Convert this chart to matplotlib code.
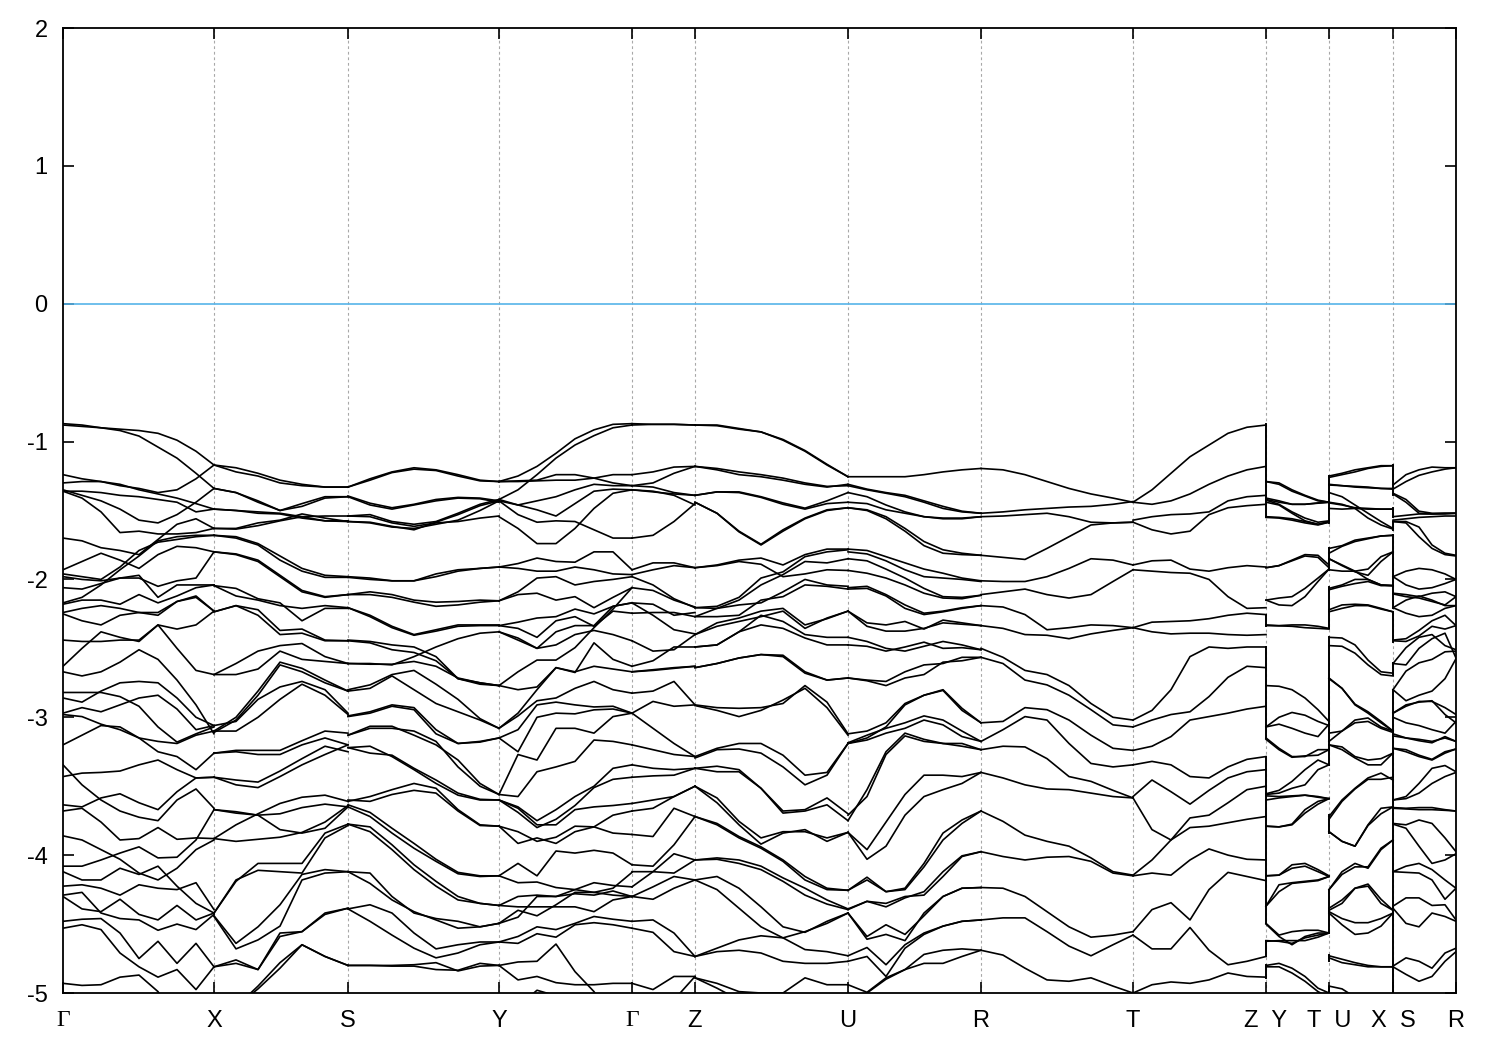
import matplotlib
matplotlib.use("Agg")
import matplotlib.pyplot as plt

plt.rcParams['font.family'] = ['Liberation Sans', 'DejaVu Sans']
plt.rcParams['axes.unicode_minus'] = False

# ---- path ticks ----
tick_k = [0, 151, 285, 436, 569, 632, 785, 918, 1070, 1203, 1266, 1330, 1393]
tick_names = ['Γ', 'X', 'S', 'Y', 'Γ', 'Z', 'U', 'R', 'T', 'Z  Y', 'T  U', 'X  S', 'R']
energy_ticks = [2, 1, 0, -1, -2, -3, -4, -5]
grid_k = [151, 285, 436, 569, 632, 785, 918, 1070, 1203, 1266, 1330]
fermi_level = 0

# ---- bands, section by section: energy (eV) at the section's k values ----
GX_k = [0, 19, 38, 57, 76, 95, 114, 133, 151]
GX_E = [
 [-.87,-.88,-.90,-.91,-.92,-.94,-.99,-1.07,-1.17],
 [-.88,-.89,-.90,-.92,-.96,-1.04,-1.12,-1.23,-1.34],
 [-1.24,-1.27,-1.29,-1.32,-1.34,-1.37,-1.35,-1.27,-1.17],
 [-1.30,-1.29,-1.29,-1.31,-1.35,-1.38,-1.41,-1.45,-1.49],
 [-1.35,-1.39,-1.43,-1.49,-1.57,-1.59,-1.53,-1.44,-1.34],
 [-1.36,-1.36,-1.37,-1.39,-1.40,-1.42,-1.44,-1.51,-1.49],
 [-1.36,-1.41,-1.51,-1.66,-1.65,-1.67,-1.67,-1.66,-1.63],
 [-1.70,-1.72,-1.77,-1.79,-1.82,-1.71,-1.60,-1.56,-1.63],
 [-1.93,-1.87,-1.81,-1.86,-1.92,-1.82,-1.76,-1.77,-1.80],
 [-1.98,-2.0,-2.01,-1.99,-1.99,-2.05,-2.01,-1.99,-1.80],
 [-1.96,-1.98,-2.0,-1.91,-1.79,-1.73,-1.71,-1.69,-1.68],
 [-2.06,-2.07,-2.03,-1.99,-1.97,-2.13,-2.04,-2.04,-2.04],
 [-2.17,-2.13,-2.04,-1.93,-1.83,-1.72,-1.69,-1.68,-1.68],
 [-2.18,-2.15,-2.15,-2.18,-2.11,-2.17,-2.12,-2.06,-2.04],
 [-2.24,-2.21,-2.19,-2.21,-2.24,-2.24,-2.16,-2.13,-2.23],
 [-2.25,-2.30,-2.33,-2.26,-2.24,-2.26,-2.16,-2.12,-2.23],
 [-2.44,-2.45,-2.45,-2.44,-2.44,-2.33,-2.50,-2.66,-2.69],
 [-2.63,-2.50,-2.38,-2.42,-2.45,-2.33,-2.36,-2.33,-2.23],
 [-2.67,-2.70,-2.67,-2.60,-2.51,-2.58,-2.73,-2.91,-3.12],
 [-2.82,-2.82,-2.82,-2.85,-2.92,-3.07,-3.18,-3.12,-3.07],
 [-2.86,-2.89,-2.81,-2.75,-2.74,-2.75,-2.86,-3.0,-3.06],
 [-2.97,-2.93,-2.96,-2.91,-2.86,-2.84,-2.94,-3.09,-3.06],
 [-2.98,-2.995,-3.05,-3.09,-3.15,-3.175,-3.19,-3.13,-3.10],
 [-3.20,-3.13,-3.06,-3.07,-3.15,-3.25,-3.285,-3.38,-3.26],
 [-3.345,-3.49,-3.6,-3.68,-3.725,-3.75,-3.6,-3.52,-3.66],
 [-3.43,-3.405,-3.40,-3.39,-3.345,-3.31,-3.38,-3.44,-3.435],
 [-3.635,-3.65,-3.585,-3.555,-3.62,-3.67,-3.54,-3.44,-3.435],
 [-3.68,-3.66,-3.76,-3.89,-3.88,-3.80,-3.885,-3.875,-3.88],
 [-3.86,-3.89,-3.96,-4.03,-4.13,-4.18,-4.095,-3.96,-3.89],
 [-4.08,-4.08,-4.035,-3.985,-3.94,-4.02,-4.015,-3.89,-3.67],
 [-4.12,-4.18,-4.18,-4.095,-4.14,-4.08,-4.225,-4.35,-4.42],
 [-4.225,-4.215,-4.24,-4.29,-4.215,-4.24,-4.25,-4.20,-4.395],
 [-4.29,-4.27,-4.42,-4.46,-4.47,-4.545,-4.50,-4.54,-4.43],
 [-4.30,-4.39,-4.41,-4.32,-4.43,-4.47,-4.365,-4.47,-4.42],
 [-4.48,-4.465,-4.46,-4.565,-4.75,-4.625,-4.785,-4.64,-4.81],
 [-4.53,-4.505,-4.54,-4.71,-4.81,-4.885,-4.83,-4.975,-4.81],
 [-4.93,-4.945,-4.94,-4.885,-4.87,-4.99,-5.2,-5.2,-5.3],
]

XS_k = [151, 173, 195, 217, 239, 262, 285]
XS_E = [
 [-1.17,-1.19,-1.23,-1.28,-1.31,-1.33,-1.33],
 [-1.17,-1.22,-1.25,-1.30,-1.32,-1.33,-1.33],
 [-1.34,-1.37,-1.44,-1.50,-1.45,-1.40,-1.40],
 [-1.34,-1.37,-1.43,-1.50,-1.47,-1.41,-1.40],
 [-1.49,-1.50,-1.52,-1.525,-1.555,-1.575,-1.58],
 [-1.49,-1.50,-1.51,-1.52,-1.545,-1.54,-1.54],
 [-1.63,-1.63,-1.59,-1.57,-1.525,-1.555,-1.58],
 [-1.63,-1.635,-1.61,-1.575,-1.545,-1.575,-1.575],
 [-1.68,-1.69,-1.74,-1.83,-1.92,-1.97,-1.98],
 [-1.68,-1.70,-1.75,-1.86,-1.94,-1.985,-1.985],
 [-1.80,-1.815,-1.86,-1.97,-2.08,-2.125,-2.11],
 [-1.80,-1.82,-1.87,-1.98,-2.09,-2.13,-2.11],
 [-2.045,-2.12,-2.15,-2.19,-2.21,-2.19,-2.205],
 [-2.235,-2.19,-2.22,-2.37,-2.36,-2.44,-2.445],
 [-2.235,-2.19,-2.26,-2.40,-2.39,-2.445,-2.445],
 [-2.045,-2.065,-2.14,-2.17,-2.30,-2.21,-2.21],
 [-2.69,-2.61,-2.52,-2.48,-2.465,-2.56,-2.61],
 [-2.69,-2.69,-2.65,-2.52,-2.58,-2.595,-2.61],
 [-3.1,-3.0,-2.81,-2.60,-2.645,-2.73,-2.81],
 [-3.11,-3.02,-2.84,-2.62,-2.67,-2.75,-2.81],
 [-3.06,-3.03,-2.87,-2.78,-2.74,-2.80,-2.97],
 [-3.10,-3.10,-3.0,-2.87,-2.76,-2.84,-2.98],
 [-3.26,-3.24,-3.24,-3.24,-3.17,-3.10,-3.115],
 [-3.26,-3.25,-3.27,-3.27,-3.20,-3.15,-3.20],
 [-3.435,-3.49,-3.51,-3.43,-3.345,-3.27,-3.20],
 [-3.435,-3.455,-3.47,-3.39,-3.30,-3.21,-3.25],
 [-3.67,-3.685,-3.71,-3.70,-3.655,-3.63,-3.65],
 [-3.67,-3.695,-3.71,-3.815,-3.84,-3.805,-3.65],
 [-3.88,-3.90,-3.885,-3.87,-3.835,-3.76,-3.64],
 [-3.88,-3.78,-3.70,-3.625,-3.58,-3.565,-3.61],
 [-4.42,-4.19,-4.06,-4.06,-4.06,-3.84,-3.775],
 [-4.42,-4.18,-4.11,-4.12,-4.13,-3.875,-3.785],
 [-4.44,-4.64,-4.52,-4.36,-4.14,-4.105,-4.12],
 [-4.445,-4.68,-4.615,-4.515,-4.18,-4.13,-4.12],
 [-4.81,-4.76,-4.83,-4.565,-4.555,-4.42,-4.385],
 [-4.81,-4.785,-4.83,-4.59,-4.555,-4.43,-4.385],
 [-5.4,-5.1,-4.95,-4.78,-4.65,-4.735,-4.80],
 [-5.4,-5.1,-4.97,-4.82,-4.65,-4.735,-4.80],
]

SY_k = [285, 307, 329, 351, 373, 395, 417, 436]
SY_E = [
 [-1.33,-1.27,-1.22,-1.19,-1.205,-1.24,-1.28,-1.29],
 [-1.33,-1.28,-1.225,-1.20,-1.21,-1.25,-1.285,-1.29],
 [-1.395,-1.447,-1.48,-1.455,-1.42,-1.405,-1.41,-1.43],
 [-1.40,-1.46,-1.49,-1.46,-1.43,-1.41,-1.415,-1.44],
 [-1.54,-1.53,-1.58,-1.60,-1.58,-1.52,-1.455,-1.42],
 [-1.58,-1.585,-1.615,-1.64,-1.585,-1.53,-1.465,-1.43],
 [-1.54,-1.545,-1.59,-1.615,-1.59,-1.58,-1.555,-1.54],
 [-1.58,-1.59,-1.62,-1.63,-1.60,-1.57,-1.50,-1.43],
 [-1.98,-1.99,-2.01,-2.01,-1.96,-1.93,-1.92,-1.91],
 [-1.985,-2.0,-2.01,-2.01,-1.98,-1.94,-1.92,-1.91],
 [-2.11,-2.09,-2.11,-2.15,-2.165,-2.16,-2.15,-2.155],
 [-2.11,-2.11,-2.13,-2.165,-2.195,-2.185,-2.165,-2.155],
 [-2.205,-2.26,-2.34,-2.40,-2.365,-2.33,-2.33,-2.33],
 [-2.205,-2.27,-2.35,-2.405,-2.375,-2.34,-2.335,-2.335],
 [-2.44,-2.45,-2.475,-2.49,-2.56,-2.72,-2.75,-2.77],
 [-2.445,-2.46,-2.51,-2.53,-2.59,-2.72,-2.76,-2.77],
 [-2.61,-2.61,-2.62,-2.56,-2.49,-2.43,-2.39,-2.38],
 [-2.61,-2.615,-2.615,-2.595,-2.63,-2.715,-2.75,-2.77],
 [-2.80,-2.765,-2.69,-2.66,-2.76,-2.87,-3.01,-3.08],
 [-2.81,-2.79,-2.70,-2.80,-2.90,-2.96,-3.02,-3.08],
 [-2.995,-2.97,-2.92,-2.945,-3.12,-3.19,-3.18,-3.15],
 [-2.99,-2.96,-2.91,-2.93,-3.09,-3.19,-3.175,-3.15],
 [-3.13,-3.08,-3.08,-3.10,-3.175,-3.36,-3.50,-3.56],
 [-3.13,-3.065,-3.065,-3.13,-3.20,-3.31,-3.48,-3.56],
 [-3.22,-3.26,-3.275,-3.37,-3.455,-3.55,-3.595,-3.60],
 [-3.22,-3.21,-3.285,-3.38,-3.48,-3.565,-3.60,-3.60],
 [-3.61,-3.575,-3.525,-3.48,-3.515,-3.67,-3.78,-3.79],
 [-3.60,-3.61,-3.56,-3.53,-3.55,-3.68,-3.785,-3.79],
 [-3.65,-3.72,-3.84,-3.95,-4.045,-4.135,-4.155,-4.15],
 [-3.635,-3.69,-3.805,-3.915,-4.03,-4.125,-4.15,-4.15],
 [-3.775,-3.83,-3.96,-4.105,-4.225,-4.325,-4.35,-4.365],
 [-3.775,-3.795,-3.925,-4.07,-4.19,-4.30,-4.35,-4.365],
 [-4.12,-4.13,-4.30,-4.42,-4.46,-4.48,-4.52,-4.495],
 [-4.12,-4.205,-4.325,-4.41,-4.47,-4.53,-4.52,-4.495],
 [-4.39,-4.36,-4.42,-4.565,-4.68,-4.65,-4.63,-4.63],
 [-4.39,-4.48,-4.58,-4.675,-4.745,-4.71,-4.65,-4.63],
 [-4.80,-4.80,-4.80,-4.795,-4.78,-4.84,-4.805,-4.80],
 [-4.80,-4.80,-4.805,-4.805,-4.83,-4.835,-4.785,-4.80],
]

YG_k = [436, 455, 474, 493, 512, 531, 550, 569]
YG_E = [
 [-1.29,-1.25,-1.18,-1.085,-.98,-.915,-.875,-.87],
 [-1.42,-1.35,-1.24,-1.12,-1.025,-.957,-.90,-.88],
 [-1.29,-1.285,-1.28,-1.24,-1.24,-1.265,-1.30,-1.32],
 [-1.29,-1.29,-1.285,-1.28,-1.28,-1.265,-1.24,-1.24],
 [-1.42,-1.46,-1.43,-1.40,-1.35,-1.31,-1.32,-1.32],
 [-1.43,-1.46,-1.495,-1.54,-1.45,-1.36,-1.345,-1.35],
 [-1.43,-1.53,-1.585,-1.575,-1.58,-1.64,-1.70,-1.70],
 [-1.545,-1.63,-1.74,-1.74,-1.63,-1.485,-1.375,-1.35],
 [-1.91,-1.885,-1.845,-1.87,-1.875,-1.80,-1.80,-1.93],
 [-1.91,-1.92,-1.94,-1.94,-1.91,-1.93,-1.96,-1.965],
 [-2.155,-2.09,-1.99,-1.98,-2.04,-2.015,-2.0,-1.98],
 [-2.155,-2.11,-2.10,-2.15,-2.125,-2.205,-2.13,-2.06],
 [-2.335,-2.31,-2.28,-2.27,-2.215,-2.25,-2.195,-2.17],
 [-2.335,-2.355,-2.42,-2.30,-2.27,-2.34,-2.23,-2.245],
 [-2.38,-2.425,-2.50,-2.38,-2.335,-2.335,-2.195,-2.17],
 [-2.38,-2.44,-2.50,-2.475,-2.40,-2.37,-2.40,-2.445],
 [-2.77,-2.67,-2.585,-2.585,-2.495,-2.35,-2.215,-2.06],
 [-2.77,-2.80,-2.78,-2.64,-2.675,-2.46,-2.58,-2.63],
 [-3.08,-2.97,-2.80,-2.64,-2.67,-2.63,-2.65,-2.67],
 [-3.08,-2.99,-2.88,-2.86,-2.79,-2.74,-2.80,-2.825],
 [-3.15,-3.25,-3.0,-2.97,-2.975,-2.946,-2.94,-2.97],
 [-3.15,-3.09,-2.91,-2.89,-2.91,-2.925,-2.92,-2.97],
 [-3.56,-3.27,-3.31,-3.08,-3.08,-3.115,-2.995,-2.97],
 [-3.56,-3.575,-3.395,-3.36,-3.32,-3.165,-3.175,-3.20],
 [-3.60,-3.65,-3.75,-3.67,-3.575,-3.50,-3.37,-3.345],
 [-3.60,-3.69,-3.80,-3.74,-3.64,-3.51,-3.45,-3.435],
 [-3.60,-3.66,-3.78,-3.78,-3.67,-3.65,-3.64,-3.625],
 [-3.79,-3.83,-3.90,-3.87,-3.79,-3.795,-3.71,-3.68],
 [-3.79,-3.915,-3.875,-3.915,-3.83,-3.795,-3.84,-3.85],
 [-4.15,-4.06,-4.15,-3.97,-3.985,-3.965,-3.985,-4.07],
 [-4.15,-4.20,-4.195,-4.235,-4.25,-4.20,-4.22,-4.23],
 [-4.365,-4.30,-4.29,-4.30,-4.28,-4.29,-4.26,-4.30],
 [-4.365,-4.375,-4.375,-4.375,-4.375,-4.41,-4.325,-4.30],
 [-4.495,-4.40,-4.44,-4.36,-4.27,-4.27,-4.24,-4.125],
 [-4.495,-4.45,-4.30,-4.30,-4.25,-4.27,-4.29,-4.30],
 [-4.63,-4.59,-4.52,-4.54,-4.495,-4.445,-4.465,-4.48],
 [-4.63,-4.64,-4.57,-4.595,-4.505,-4.49,-4.505,-4.53],
 [-4.80,-4.775,-4.77,-4.645,-4.845,-4.99,-5.2,-5.3],
 [-4.80,-4.905,-4.88,-4.925,-4.94,-4.94,-4.93,-4.93],
 [-5.3,-5.1,-4.98,-5.02,-5.3,-5.3,-5.3,-5.3],
]

GZ_k = [569, 590, 611, 632]
GZ_E = [
 [-.87,-.875,-.875,-.88],
 [-.88,-.875,-.875,-.88],
 [-1.24,-1.22,-1.185,-1.18],
 [-1.32,-1.30,-1.23,-1.18],
 [-1.32,-1.33,-1.37,-1.39],
 [-1.35,-1.365,-1.38,-1.39],
 [-1.35,-1.36,-1.39,-1.46],
 [-1.70,-1.68,-1.58,-1.45],
 [-1.93,-1.88,-1.88,-1.915],
 [-1.965,-1.93,-1.90,-1.915],
 [-1.98,-2.04,-2.14,-2.205],
 [-2.06,-2.08,-2.15,-2.20],
 [-2.17,-2.18,-2.26,-2.24],
 [-2.245,-2.24,-2.24,-2.27],
 [-2.17,-2.26,-2.365,-2.395],
 [-2.445,-2.52,-2.51,-2.40],
 [-2.63,-2.59,-2.49,-2.49],
 [-2.67,-2.66,-2.645,-2.63],
 [-2.67,-2.655,-2.64,-2.63],
 [-2.825,-2.81,-2.74,-2.91],
 [-2.97,-3.08,-3.19,-3.285],
 [-2.97,-2.885,-2.92,-2.91],
 [-3.20,-3.235,-3.27,-3.285],
 [-3.345,-3.37,-3.38,-3.37],
 [-3.435,-3.425,-3.42,-3.37],
 [-3.625,-3.60,-3.575,-3.50],
 [-3.68,-3.66,-3.575,-3.50],
 [-3.85,-3.865,-3.66,-3.72],
 [-4.07,-4.08,-3.925,-3.72],
 [-4.23,-4.12,-4.13,-4.035],
 [-4.12,-4.12,-3.99,-4.035],
 [-4.30,-4.32,-4.24,-4.18],
 [-4.30,-4.23,-4.155,-4.18],
 [-4.48,-4.47,-4.565,-4.735],
 [-4.53,-4.56,-4.70,-4.735],
 [-4.93,-4.975,-4.88,-4.88],
 [-5.3,-5.3,-5.05,-4.88],
]

ZU_k = [632, 654, 676, 698, 720, 742, 764, 785]
ZU_E = [
 [-.88,-.885,-.91,-.93,-.99,-1.07,-1.17,-1.255],
 [-.88,-.88,-.905,-.93,-.985,-1.065,-1.165,-1.255],
 [-1.18,-1.195,-1.22,-1.24,-1.265,-1.30,-1.325,-1.32],
 [-1.18,-1.205,-1.24,-1.255,-1.28,-1.31,-1.33,-1.31],
 [-1.39,-1.365,-1.365,-1.40,-1.445,-1.483,-1.43,-1.37],
 [-1.39,-1.365,-1.37,-1.405,-1.455,-1.49,-1.45,-1.44],
 [-1.44,-1.52,-1.65,-1.745,-1.64,-1.555,-1.495,-1.48],
 [-1.44,-1.52,-1.655,-1.75,-1.65,-1.56,-1.50,-1.48],
 [-1.915,-1.895,-1.86,-1.845,-1.895,-1.82,-1.78,-1.78],
 [-1.915,-1.90,-1.87,-1.89,-1.98,-1.96,-1.93,-1.935],
 [-2.205,-2.195,-2.13,-1.99,-1.945,-1.835,-1.80,-1.785],
 [-2.205,-2.21,-2.15,-2.04,-1.965,-1.87,-1.88,-1.85],
 [-2.27,-2.21,-2.185,-2.17,-2.09,-2.0,-2.04,-2.05],
 [-2.27,-2.27,-2.26,-2.15,-2.125,-2.04,-2.05,-2.07],
 [-2.40,-2.315,-2.28,-2.23,-2.21,-2.33,-2.285,-2.23],
 [-2.40,-2.34,-2.305,-2.27,-2.23,-2.355,-2.28,-2.23],
 [-2.49,-2.475,-2.38,-2.26,-2.305,-2.40,-2.42,-2.42],
 [-2.49,-2.475,-2.38,-2.33,-2.355,-2.425,-2.475,-2.475],
 [-2.64,-2.61,-2.57,-2.545,-2.55,-2.67,-2.73,-2.715],
 [-2.64,-2.61,-2.57,-2.545,-2.56,-2.68,-2.73,-2.715],
 [-2.91,-2.93,-2.935,-2.93,-2.90,-2.77,-2.89,-3.12],
 [-2.915,-2.95,-2.995,-2.95,-2.875,-2.79,-2.93,-3.13],
 [-3.285,-3.225,-3.19,-3.19,-3.275,-3.42,-3.40,-3.19],
 [-3.295,-3.235,-3.23,-3.26,-3.36,-3.49,-3.42,-3.19],
 [-3.37,-3.355,-3.38,-3.515,-3.68,-3.67,-3.585,-3.70],
 [-3.37,-3.395,-3.395,-3.515,-3.695,-3.68,-3.635,-3.75],
 [-3.50,-3.585,-3.755,-3.875,-3.83,-3.83,-3.875,-3.835],
 [-3.50,-3.62,-3.78,-3.92,-3.84,-3.815,-3.90,-3.835],
 [-3.72,-3.77,-3.865,-3.94,-4.035,-4.155,-4.24,-4.255],
 [-3.72,-3.78,-3.875,-3.95,-4.045,-4.18,-4.25,-4.255],
 [-4.035,-4.02,-4.035,-4.08,-4.165,-4.24,-4.325,-4.39],
 [-4.035,-4.03,-4.06,-4.105,-4.19,-4.29,-4.355,-4.395],
 [-4.18,-4.155,-4.24,-4.375,-4.52,-4.56,-4.48,-4.42],
 [-4.18,-4.25,-4.385,-4.52,-4.60,-4.555,-4.495,-4.42],
 [-4.735,-4.675,-4.615,-4.585,-4.60,-4.685,-4.70,-4.73],
 [-4.735,-4.70,-4.69,-4.71,-4.77,-4.785,-4.785,-4.77],
 [-4.89,-4.93,-4.99,-5.0,-5.0,-4.89,-4.94,-4.94],
 [-4.89,-4.965,-5.05,-5.2,-5.2,-5.2,-5.2,-5.2],
]

UR_k = [785, 804, 823, 842, 861, 880, 899, 918]
UR_E = [
 [-1.255,-1.255,-1.255,-1.255,-1.24,-1.22,-1.205,-1.195],
 [-1.32,-1.35,-1.375,-1.40,-1.44,-1.485,-1.51,-1.52],
 [-1.31,-1.345,-1.37,-1.39,-1.43,-1.47,-1.505,-1.52],
 [-1.37,-1.40,-1.46,-1.51,-1.545,-1.555,-1.555,-1.545],
 [-1.44,-1.45,-1.495,-1.52,-1.545,-1.56,-1.56,-1.545],
 [-1.48,-1.495,-1.545,-1.63,-1.725,-1.785,-1.81,-1.825],
 [-1.48,-1.50,-1.56,-1.65,-1.755,-1.81,-1.82,-1.825],
 [-1.78,-1.79,-1.835,-1.88,-1.925,-1.955,-1.99,-2.01],
 [-1.80,-1.815,-1.865,-1.93,-1.98,-1.99,-2.0,-2.015],
 [-1.85,-1.865,-1.925,-1.99,-2.065,-2.125,-2.13,-2.115],
 [-1.935,-1.955,-1.99,-2.04,-2.10,-2.135,-2.14,-2.115],
 [-2.06,-2.05,-2.11,-2.185,-2.245,-2.23,-2.205,-2.19],
 [-2.07,-2.065,-2.12,-2.21,-2.255,-2.235,-2.21,-2.19],
 [-2.23,-2.34,-2.375,-2.375,-2.355,-2.315,-2.325,-2.335],
 [-2.23,-2.315,-2.33,-2.305,-2.36,-2.295,-2.315,-2.335],
 [-2.42,-2.45,-2.50,-2.52,-2.485,-2.45,-2.475,-2.51],
 [-2.475,-2.485,-2.52,-2.49,-2.455,-2.50,-2.495,-2.51],
 [-2.715,-2.73,-2.74,-2.67,-2.62,-2.61,-2.565,-2.565],
 [-2.715,-2.735,-2.77,-2.715,-2.69,-2.60,-2.59,-2.565],
 [-3.12,-3.10,-3.04,-2.90,-2.84,-2.80,-2.935,-3.04],
 [-3.19,-3.15,-3.07,-2.91,-2.84,-2.805,-2.95,-3.04],
 [-3.185,-3.13,-3.08,-3.04,-2.99,-3.02,-3.10,-3.175],
 [-3.19,-3.165,-3.115,-3.08,-3.02,-3.055,-3.14,-3.175],
 [-3.835,-3.96,-3.76,-3.56,-3.42,-3.42,-3.43,-3.40],
 [-3.835,-4.03,-3.935,-3.71,-3.575,-3.525,-3.48,-3.40],
 [-3.71,-3.575,-3.27,-3.135,-3.175,-3.19,-3.19,-3.235],
 [-3.75,-3.525,-3.25,-3.115,-3.16,-3.19,-3.21,-3.235],
 [-4.255,-4.16,-4.265,-4.24,-4.06,-3.84,-3.745,-3.68],
 [-4.255,-4.18,-4.265,-4.25,-4.085,-3.89,-3.77,-3.68],
 [-4.39,-4.335,-4.35,-4.30,-4.29,-4.155,-4.01,-3.975],
 [-4.395,-4.335,-4.375,-4.31,-4.265,-4.12,-4.005,-3.975],
 [-4.42,-4.59,-4.505,-4.575,-4.44,-4.30,-4.24,-4.235],
 [-4.42,-4.61,-4.575,-4.62,-4.42,-4.30,-4.24,-4.235],
 [-4.73,-4.67,-4.795,-4.65,-4.565,-4.515,-4.48,-4.47],
 [-4.77,-4.735,-4.88,-4.675,-4.575,-4.515,-4.48,-4.47],
 [-4.94,-4.995,-4.89,-4.83,-4.72,-4.69,-4.68,-4.69],
 [-5.2,-5.0,-4.90,-4.83,-4.785,-4.785,-4.735,-4.69],
]

RT_k = [918, 940, 962, 984, 1006, 1028, 1050, 1070]
RT_E = [
 [-1.195,-1.205,-1.24,-1.29,-1.34,-1.38,-1.41,-1.44],
 [-1.52,-1.51,-1.495,-1.485,-1.475,-1.47,-1.455,-1.435],
 [-1.545,-1.54,-1.53,-1.52,-1.545,-1.585,-1.59,-1.585],
 [-1.825,-1.84,-1.855,-1.775,-1.69,-1.605,-1.59,-1.585],
 [-2.01,-2.015,-2.015,-1.98,-1.92,-1.85,-1.86,-1.895],
 [-2.11,-2.09,-2.07,-2.11,-2.135,-2.11,-2.015,-1.93],
 [-2.19,-2.20,-2.255,-2.365,-2.35,-2.33,-2.335,-2.35],
 [-2.335,-2.355,-2.40,-2.405,-2.43,-2.395,-2.37,-2.35],
 [-2.50,-2.565,-2.66,-2.69,-2.77,-2.90,-3.0,-3.02],
 [-2.565,-2.61,-2.73,-2.765,-2.84,-2.945,-3.055,-3.07],
 [-3.04,-3.03,-2.93,-2.945,-3.02,-3.13,-3.225,-3.24],
 [-3.175,-3.09,-2.995,-3.02,-3.19,-3.335,-3.36,-3.345],
 [-3.235,-3.21,-3.215,-3.30,-3.43,-3.465,-3.53,-3.585],
 [-3.40,-3.44,-3.49,-3.52,-3.525,-3.55,-3.575,-3.585],
 [-3.68,-3.755,-3.855,-3.90,-3.935,-4.02,-4.12,-4.145],
 [-3.975,-4.01,-4.035,-4.015,-4.01,-4.045,-4.13,-4.15],
 [-4.235,-4.24,-4.30,-4.41,-4.52,-4.595,-4.58,-4.555],
 [-4.47,-4.455,-4.455,-4.555,-4.66,-4.73,-4.65,-4.58],
 [-4.69,-4.725,-4.82,-4.905,-4.915,-4.89,-4.95,-5.0],
]

TZ_k = [1070, 1089, 1108, 1127, 1146, 1165, 1184, 1203]
TZ_E = [
 [-1.44,-1.35,-1.23,-1.11,-1.025,-.94,-.896,-.88],
 [-1.44,-1.455,-1.43,-1.38,-1.31,-1.25,-1.205,-1.18],
 [-1.585,-1.64,-1.67,-1.65,-1.53,-1.48,-1.465,-1.455],
 [-1.57,-1.545,-1.53,-1.525,-1.51,-1.43,-1.40,-1.39],
 [-1.895,-1.865,-1.86,-1.925,-1.94,-1.915,-1.90,-1.91],
 [-1.93,-1.94,-1.95,-1.955,-2.0,-2.125,-2.21,-2.205],
 [-2.35,-2.31,-2.305,-2.30,-2.285,-2.26,-2.245,-2.255],
 [-2.35,-2.38,-2.395,-2.39,-2.39,-2.40,-2.405,-2.40],
 [-3.02,-2.95,-2.80,-2.56,-2.49,-2.50,-2.49,-2.49],
 [-3.07,-3.02,-2.98,-2.96,-2.85,-2.71,-2.63,-2.64],
 [-3.24,-3.21,-3.14,-3.02,-2.995,-2.97,-2.94,-2.92],
 [-3.345,-3.32,-3.345,-3.43,-3.44,-3.36,-3.305,-3.285],
 [-3.575,-3.455,-3.54,-3.63,-3.53,-3.44,-3.395,-3.38],
 [-3.585,-3.815,-3.89,-3.73,-3.71,-3.62,-3.525,-3.50],
 [-4.145,-4.035,-3.89,-3.80,-3.79,-3.765,-3.74,-3.72],
 [-4.15,-4.13,-4.145,-4.035,-3.955,-4.0,-4.03,-4.035],
 [-4.555,-4.395,-4.345,-4.47,-4.25,-4.125,-4.155,-4.185],
 [-4.58,-4.68,-4.68,-4.525,-4.69,-4.795,-4.77,-4.735],
 [-5.0,-4.94,-4.92,-4.93,-4.905,-4.855,-4.88,-4.885],
]

YT_k = [1203, 1216, 1229, 1242, 1255, 1266]
YT_E = [
 [-1.29,-1.30,-1.35,-1.39,-1.425,-1.44],
 [-1.29,-1.31,-1.36,-1.395,-1.43,-1.44],
 [-1.41,-1.43,-1.455,-1.455,-1.447,-1.44],
 [-1.42,-1.44,-1.455,-1.455,-1.445,-1.44],
 [-1.425,-1.455,-1.51,-1.555,-1.585,-1.575],
 [-1.44,-1.46,-1.52,-1.575,-1.60,-1.58],
 [-1.545,-1.55,-1.56,-1.58,-1.60,-1.585],
 [-1.55,-1.555,-1.57,-1.59,-1.605,-1.585],
 [-1.915,-1.90,-1.86,-1.82,-1.825,-1.895],
 [-1.915,-1.90,-1.865,-1.83,-1.84,-1.915],
 [-2.15,-2.135,-2.125,-2.065,-1.99,-1.925],
 [-2.15,-2.185,-2.19,-2.125,-2.015,-1.925],
 [-2.33,-2.335,-2.33,-2.33,-2.34,-2.355],
 [-2.335,-2.337,-2.34,-2.35,-2.355,-2.36],
 [-2.77,-2.775,-2.80,-2.86,-2.945,-3.03],
 [-3.07,-3.0,-2.965,-2.985,-3.03,-3.06],
 [-3.07,-3.05,-3.08,-3.115,-3.14,-3.05],
 [-3.15,-3.225,-3.285,-3.285,-3.235,-3.235],
 [-3.16,-3.235,-3.29,-3.28,-3.275,-3.235],
 [-3.555,-3.53,-3.465,-3.38,-3.31,-3.345],
 [-3.56,-3.55,-3.515,-3.49,-3.38,-3.345],
 [-3.57,-3.575,-3.57,-3.565,-3.575,-3.59],
 [-3.60,-3.585,-3.575,-3.565,-3.58,-3.59],
 [-3.79,-3.795,-3.775,-3.67,-3.61,-3.59],
 [-3.79,-3.795,-3.78,-3.695,-3.63,-3.59],
 [-4.15,-4.145,-4.07,-4.06,-4.105,-4.15],
 [-4.15,-4.145,-4.095,-4.08,-4.12,-4.155],
 [-4.37,-4.215,-4.20,-4.19,-4.18,-4.155],
 [-4.37,-4.265,-4.205,-4.195,-4.185,-4.155],
 [-4.495,-4.58,-4.555,-4.545,-4.545,-4.565],
 [-4.50,-4.59,-4.65,-4.59,-4.565,-4.565],
 [-4.625,-4.62,-4.62,-4.62,-4.595,-4.565],
 [-4.62,-4.625,-4.64,-4.60,-4.58,-4.565],
 [-4.80,-4.785,-4.82,-4.88,-4.965,-5.0],
 [-4.81,-4.81,-4.855,-4.915,-4.99,-5.03],
]

UX_k = [1266, 1279, 1292, 1305, 1318, 1330]
UX_E = [
 [-1.25,-1.23,-1.205,-1.19,-1.175,-1.175],
 [-1.26,-1.24,-1.22,-1.195,-1.18,-1.175],
 [-1.31,-1.32,-1.325,-1.33,-1.34,-1.34],
 [-1.315,-1.32,-1.33,-1.335,-1.34,-1.345],
 [-1.37,-1.40,-1.46,-1.52,-1.58,-1.63],
 [-1.44,-1.455,-1.485,-1.555,-1.605,-1.635],
 [-1.445,-1.46,-1.48,-1.485,-1.49,-1.49],
 [-1.485,-1.49,-1.485,-1.49,-1.49,-1.49],
 [-1.775,-1.755,-1.715,-1.70,-1.685,-1.68],
 [-1.81,-1.76,-1.725,-1.705,-1.685,-1.68],
 [-1.85,-1.90,-1.945,-1.97,-1.87,-1.80],
 [-1.85,-1.895,-1.94,-1.925,-1.835,-1.80],
 [-1.93,-1.94,-1.94,-2.0,-2.04,-2.045],
 [-2.065,-2.04,-2.0,-2.0,-2.04,-2.045],
 [-2.075,-2.05,-2.03,-2.015,-2.045,-2.045],
 [-2.22,-2.185,-2.18,-2.185,-2.21,-2.235],
 [-2.235,-2.21,-2.19,-2.19,-2.215,-2.235],
 [-2.42,-2.425,-2.475,-2.585,-2.67,-2.68],
 [-2.48,-2.485,-2.535,-2.62,-2.69,-2.70],
 [-2.715,-2.79,-2.91,-2.97,-3.04,-3.10],
 [-2.72,-2.79,-2.905,-2.96,-3.03,-3.10],
 [-3.115,-3.10,-3.02,-3.005,-3.07,-3.10],
 [-3.175,-3.10,-3.04,-3.03,-3.08,-3.11],
 [-3.20,-3.215,-3.285,-3.31,-3.30,-3.26],
 [-3.20,-3.235,-3.295,-3.345,-3.345,-3.26],
 [-3.72,-3.60,-3.515,-3.44,-3.405,-3.455],
 [-3.74,-3.61,-3.52,-3.45,-3.45,-3.435],
 [-3.83,-3.90,-3.935,-3.78,-3.66,-3.65],
 [-3.83,-3.90,-3.935,-3.785,-3.70,-3.65],
 [-4.25,-4.12,-4.06,-4.095,-3.96,-3.89],
 [-4.25,-4.14,-4.085,-4.085,-3.95,-3.89],
 [-4.385,-4.325,-4.24,-4.21,-4.32,-4.40],
 [-4.40,-4.35,-4.24,-4.225,-4.35,-4.40],
 [-4.41,-4.46,-4.49,-4.49,-4.46,-4.42],
 [-4.42,-4.505,-4.575,-4.565,-4.515,-4.42],
 [-4.73,-4.755,-4.78,-4.80,-4.81,-4.81],
 [-4.745,-4.78,-4.795,-4.81,-4.81,-4.81],
 [-4.95,-4.97,-5.03,-5.3,-5.3,-5.3],
]

SR_k = [1330, 1343, 1356, 1369, 1382, 1393]
SR_E = [
 [-1.315,-1.24,-1.205,-1.185,-1.19,-1.19],
 [-1.345,-1.29,-1.245,-1.22,-1.20,-1.19],
 [-1.375,-1.42,-1.505,-1.52,-1.52,-1.52],
 [-1.38,-1.44,-1.52,-1.525,-1.525,-1.52],
 [-1.545,-1.535,-1.525,-1.525,-1.52,-1.52],
 [-1.57,-1.56,-1.55,-1.545,-1.54,-1.54],
 [-1.58,-1.58,-1.62,-1.75,-1.81,-1.825],
 [-1.58,-1.59,-1.69,-1.775,-1.82,-1.83],
 [-1.98,-1.94,-1.92,-1.93,-1.96,-2.0],
 [-1.98,-2.04,-2.07,-2.06,-2.03,-2.0],
 [-2.10,-2.11,-2.125,-2.10,-2.09,-2.125],
 [-2.105,-2.125,-2.135,-2.16,-2.185,-2.125],
 [-2.205,-2.15,-2.12,-2.15,-2.19,-2.19],
 [-2.205,-2.245,-2.27,-2.26,-2.21,-2.19],
 [-2.44,-2.43,-2.37,-2.30,-2.26,-2.335],
 [-2.445,-2.45,-2.41,-2.34,-2.36,-2.335],
 [-2.61,-2.62,-2.50,-2.43,-2.39,-2.57],
 [-2.61,-2.495,-2.42,-2.40,-2.48,-2.51],
 [-2.80,-2.665,-2.605,-2.58,-2.525,-2.52],
 [-2.80,-2.88,-2.84,-2.81,-2.72,-2.575],
 [-2.97,-2.92,-2.885,-2.885,-2.93,-2.98],
 [-2.97,-2.91,-2.89,-2.88,-2.98,-3.04],
 [-3.0,-3.04,-3.06,-3.09,-3.115,-3.03],
 [-3.12,-3.15,-3.16,-3.175,-3.15,-3.175],
 [-3.135,-3.15,-3.17,-3.185,-3.14,-3.175],
 [-3.225,-3.235,-3.275,-3.305,-3.25,-3.23],
 [-3.225,-3.25,-3.285,-3.31,-3.26,-3.23],
 [-3.60,-3.575,-3.48,-3.37,-3.35,-3.395],
 [-3.60,-3.59,-3.55,-3.48,-3.43,-3.40],
 [-3.655,-3.66,-3.655,-3.655,-3.67,-3.68],
 [-3.66,-3.665,-3.67,-3.67,-3.675,-3.68],
 [-3.77,-3.78,-3.745,-3.77,-3.875,-3.975],
 [-3.775,-3.805,-3.935,-4.06,-4.035,-3.99],
 [-4.12,-4.08,-4.06,-4.105,-4.18,-4.24],
 [-4.12,-4.125,-4.13,-4.18,-4.32,-4.24],
 [-4.37,-4.31,-4.31,-4.365,-4.36,-4.47],
 [-4.385,-4.495,-4.52,-4.42,-4.445,-4.48],
 [-4.805,-4.745,-4.77,-4.82,-4.71,-4.675],
 [-4.81,-4.865,-4.915,-4.88,-4.77,-4.70],
]

# ---- jumps where the path is broken: (top, bottom) energies ----
jump_ZY = [(-.875,-1.544), (-2.257,-2.335), (-2.487,-3.152), (-3.285,-4.493), (-4.626,-4.735), (-4.795,-4.892)]
jump_TU = [(-1.249,-1.593), (-1.774,-1.931), (-2.052,-2.354), (-2.421,-3.345), (-3.708,-3.841), (-4.252,-4.566), (-4.723,-4.771), (-4.953,-5.0)]
jump_XS = [(-1.17,-1.387), (-1.484,-1.544), (-1.58,-1.641), (-1.677,-2.209), (-2.245,-2.451), (-2.608,-2.692), (-2.8,-5.0)]

sections = [(GX_k, GX_E), (XS_k, XS_E), (SY_k, SY_E), (YG_k, YG_E), (GZ_k, GZ_E), (ZU_k, ZU_E),
            (UR_k, UR_E), (RT_k, RT_E), (TZ_k, TZ_E), (YT_k, YT_E), (UX_k, UX_E), (SR_k, SR_E)]

fig = plt.figure(figsize=(15, 10.5), dpi=100)
ax = fig.add_axes([63/1500, 1-993/1050, (1456-63)/1500, (993-28)/1050])

for x in grid_k:
    ax.axvline(x, color='#a8a8a8', lw=0.8, dashes=(2.5, 2.5), zorder=1)
ax.axhline(fermi_level, color='#56b4e9', lw=1.2, zorder=2)

for k, rows in sections:
    for row in rows:
        ax.plot(k, row, color='black', lw=1.2, solid_joinstyle='round', zorder=3)

for x, spans in ((1203, jump_ZY), (1266, jump_TU), (1330, jump_XS)):
    for top, bottom in spans:
        ax.plot([x, x], [top, bottom], color='black', lw=1.4, zorder=3)

ax.set_xlim(0, 1393)
ax.set_ylim(-5, 2)
ax.set_yticks(energy_ticks)
ax.set_xticks(tick_k)
ax.set_xticklabels(tick_names)
ax.tick_params(axis='both', direction='in', length=8, width=1.2, top=True, right=True, labelsize=17)
ax.tick_params(axis='x', pad=12)
ax.tick_params(axis='y', pad=11)
for label in ax.get_xticklabels():
    if label.get_text() == 'Γ':
        label.set_fontfamily(['Liberation Serif', 'DejaVu Serif'])
for side in ax.spines.values():
    side.set_linewidth(1.3)

fig.savefig('out.png', dpi=100)
